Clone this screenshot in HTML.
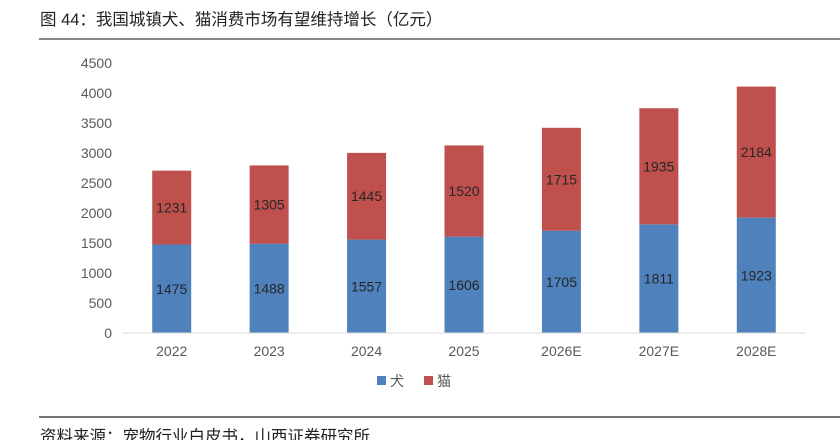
<!DOCTYPE html>
<html><head><meta charset="utf-8">
<style>
body{margin:0;width:840px;height:440px;background:#fff;overflow:hidden;font-family:"Liberation Sans","Noto Sans CJK SC",sans-serif;}
</style></head><body>
<svg width="840" height="440" xmlns="http://www.w3.org/2000/svg">
<text x="40" y="25" font-size="16.5" fill="#222" font-family="Liberation Sans, Noto Sans CJK SC, sans-serif">图 44：我国城镇犬、猫消费市场有望维持增长（亿元）</text>
<line x1="39" y1="39" x2="840" y2="39" stroke="#888" stroke-width="2"/>
<g id="yaxis"></g>
<g id="bars"></g>
<line x1="123" y1="333" x2="805" y2="333" stroke="#d9d9d9" stroke-width="1"/>
<g id="xaxis"></g>
<g>
<g><rect x="377" y="376" width="9" height="9" fill="#4f81bd"/><text x="390" y="386" font-size="14" fill="#595959">犬</text></g>
<g><rect x="424" y="376" width="9" height="9" fill="#c0504d"/><text x="437" y="386" font-size="14" fill="#595959">猫</text></g>
</g>
<line x1="39" y1="417" x2="840" y2="417" stroke="#444" stroke-width="1.5"/>
<text x="40" y="442" font-size="16.5" fill="#222">资料来源：宠物行业白皮书，山西证券研究所</text>
</svg>
<script>
const categories=["2022","2023","2024","2025","2026E","2027E","2028E"];
const dogValues=[1475,1488,1557,1606,1705,1811,1923];
const catValues=[1231,1305,1445,1520,1715,1935,2184];
const yTicks=[0,500,1000,1500,2000,2500,3000,3500,4000,4500];
const NS="http://www.w3.org/2000/svg";
const y0=333,yTop=63,yMax=4500;
function yScale(v){return y0-(v/yMax)*(y0-yTop);}
function xScale(i){return 123+(805-123)/categories.length*(i+0.5);}
const bw=39;
function mk(tag,attrs,parent){const e=document.createElementNS(NS,tag);for(const k in attrs)e.setAttribute(k,attrs[k]);parent.appendChild(e);return e;}
const ya=document.getElementById('yaxis'),bars=document.getElementById('bars'),xa=document.getElementById('xaxis');
yTicks.forEach(t=>{const e=mk('text',{x:112,y:yScale(t)+5,'font-size':14,fill:'#595959','text-anchor':'end'},ya);e.textContent=t;

});
categories.forEach((c,i)=>{const cx=xScale(i);
const d=mk('rect',{x:cx-bw/2,y:yScale(dogValues[i]),width:bw,height:y0-yScale(dogValues[i]),fill:'#4f81bd'},bars);


const tot=dogValues[i]+catValues[i];
const k=mk('rect',{x:cx-bw/2,y:yScale(tot),width:bw,height:yScale(dogValues[i])-yScale(tot),fill:'#c0504d'},bars);


const t1=mk('text',{x:cx,y:(y0+yScale(dogValues[i]))/2+5,'font-size':14,fill:'#262626','text-anchor':'middle'},bars);t1.textContent=dogValues[i];


const t2=mk('text',{x:cx,y:(yScale(dogValues[i])+yScale(tot))/2+5,'font-size':14,fill:'#262626','text-anchor':'middle'},bars);t2.textContent=catValues[i];


const xl=mk('text',{x:cx,y:356,'font-size':14,fill:'#595959','text-anchor':'middle'},xa);xl.textContent=c;


});
</script>
</body></html>
